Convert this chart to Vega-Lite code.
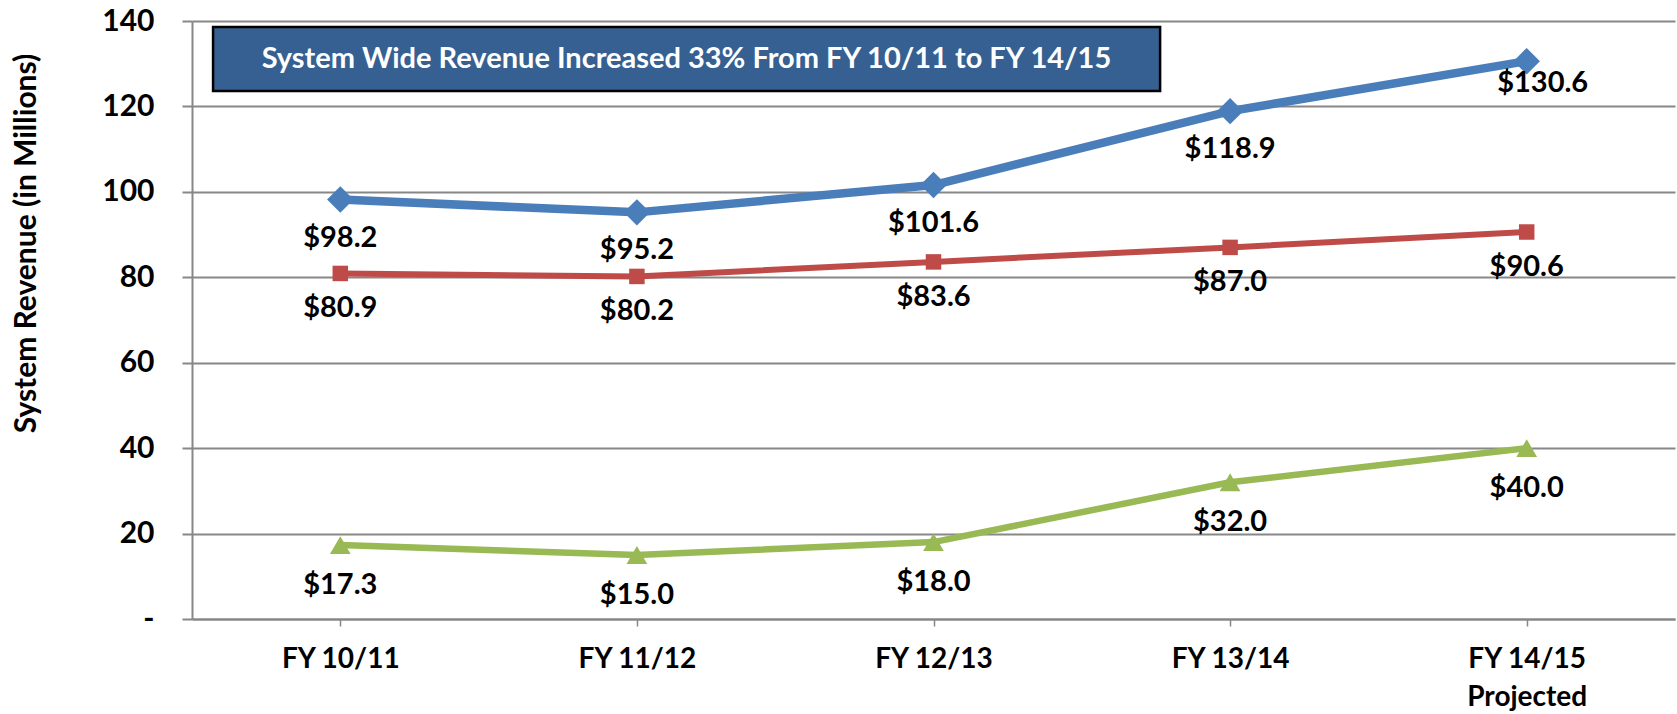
{
  "$schema": "https://vega.github.io/schema/vega-lite/v6.json",
  "width": 1483,
  "height": 598,
  "autosize": {"type": "none"},
  "padding": {"left": 192, "top": 21, "right": 2, "bottom": 95},
  "background": "white",
  "config": {"view": {"stroke": null}, "font": "Lato"},
  "datasets": {
    "rev": [
      {"year": "FY 10/11", "series": "Total", "value": 98.2},
      {"year": "FY 11/12", "series": "Total", "value": 95.2},
      {"year": "FY 12/13", "series": "Total", "value": 101.6},
      {"year": "FY 13/14", "series": "Total", "value": 118.9},
      {"year": "FY 14/15", "series": "Total", "value": 130.6},
      {"year": "FY 10/11", "series": "Fares", "value": 80.9},
      {"year": "FY 11/12", "series": "Fares", "value": 80.2},
      {"year": "FY 12/13", "series": "Fares", "value": 83.6},
      {"year": "FY 13/14", "series": "Fares", "value": 87.0},
      {"year": "FY 14/15", "series": "Fares", "value": 90.6},
      {"year": "FY 10/11", "series": "Other", "value": 17.3},
      {"year": "FY 11/12", "series": "Other", "value": 15.0},
      {"year": "FY 12/13", "series": "Other", "value": 18.0},
      {"year": "FY 13/14", "series": "Other", "value": 32.0},
      {"year": "FY 14/15", "series": "Other", "value": 40.0}
    ],
    "note": [{"text": "System Wide Revenue Increased 33% From FY 10/11 to FY 14/15"}]
  },
  "resolve": {"scale": {"x": "independent"}},
  "layer": [
    {
      "data": {"name": "rev"},
      "encoding": {
        "x": {
          "field": "year", "type": "ordinal",
          "scale": {"paddingInner": 0, "paddingOuter": 0},
          "axis": {
            "title": null,
            "labelAngle": 0,
            "labelFont": "Lato",
            "labelFontWeight": "bold",
            "labelFontSize": 28,
            "labelColor": "black",
            "labelPadding": 19,
            "labelLineHeight": 38,
            "labelExpr": "datum.value == 'FY 14/15' ? ['FY 14/15', 'Projected'] : datum.label",
            "domainColor": "#878787",
            "domainWidth": 2,
            "tickColor": "#878787",
            "tickWidth": 1.5,
            "tickSize": 7
          }
        },
        "y": {
          "field": "value", "type": "quantitative",
          "scale": {"domain": [0, 140], "nice": false},
          "axis": {
            "title": "System Revenue (in Millions)",
            "titleFont": "Lato",
            "titleFontSize": 30,
            "titleFontWeight": "bold",
            "titleColor": "black",
            "titleX": -166,
            "titleY": 222,
            "titleBaseline": "middle",
            "titleAlign": "center",
            "titleAngle": -90,
            "values": [0, 20, 40, 60, 80, 100, 120, 140],
            "labelExpr": "datum.value == 0 ? '-' : datum.label",
            "labelFont": "Lato",
            "labelFontSize": 30,
            "labelFontWeight": "bold",
            "labelColor": "black",
            "labelPadding": 28,
            "grid": true,
            "gridColor": "#878787",
            "gridWidth": 2,
            "domainColor": "#878787",
            "domainWidth": 2,
            "tickColor": "#878787",
            "tickWidth": 2,
            "tickSize": 10
          }
        },
        "color": {
          "field": "series", "type": "nominal",
          "scale": {"domain": ["Total", "Fares", "Other"], "range": ["#4A7EBB", "#BE4B48", "#98B954"]},
          "legend": null
        }
      },
      "layer": [
        {
          "mark": {"type": "line"},
          "encoding": {
            "strokeWidth": {
              "field": "series", "type": "nominal",
              "scale": {"type": "ordinal", "domain": ["Total", "Fares", "Other"], "range": [8.5, 6, 6.5]},
              "legend": null
            }
          }
        },
        {
          "mark": {"type": "point", "filled": true, "opacity": 1},
          "encoding": {
            "shape": {
              "field": "series", "type": "nominal",
              "scale": {"domain": ["Total", "Fares", "Other"], "range": ["diamond", "square", "triangle-up"]},
              "legend": null
            },
            "size": {
              "field": "series", "type": "nominal",
              "scale": {"type": "ordinal", "domain": ["Total", "Fares", "Other"], "range": [700, 240, 430]},
              "legend": null
            }
          }
        },
        {
          "transform": [{"filter": "datum.series == 'Total' && datum.year != 'FY 14/15'"}],
          "mark": {"type": "text", "dy": 38, "font": "Lato", "fontSize": 29, "fontWeight": "bold"},
          "encoding": {"text": {"field": "value", "type": "quantitative", "format": "$.1f"}, "color": {"value": "black"}}
        },
        {
          "transform": [{"filter": "datum.series == 'Total' && datum.year == 'FY 14/15'"}],
          "mark": {"type": "text", "dy": 22, "dx": 16, "font": "Lato", "fontSize": 29, "fontWeight": "bold"},
          "encoding": {"text": {"field": "value", "type": "quantitative", "format": "$.1f"}, "color": {"value": "black"}}
        },
        {
          "transform": [{"filter": "datum.series == 'Fares'"}],
          "mark": {"type": "text", "dy": 35, "font": "Lato", "fontSize": 29, "fontWeight": "bold"},
          "encoding": {"text": {"field": "value", "type": "quantitative", "format": "$.1f"}, "color": {"value": "black"}}
        },
        {
          "transform": [{"filter": "datum.series == 'Other'"}],
          "mark": {"type": "text", "dy": 40, "font": "Lato", "fontSize": 29, "fontWeight": "bold"},
          "encoding": {"text": {"field": "value", "type": "quantitative", "format": "$.1f"}, "color": {"value": "black"}}
        }
      ]
    },
    {
      "data": {"name": "note"},
      "mark": {"type": "rect", "fill": "#376092", "stroke": "black", "strokeWidth": 2.5},
      "encoding": {
        "x": {"datum": 0.071, "type": "quantitative", "scale": {"domain": [0, 5], "nice": false}, "axis": null},
        "x2": {"datum": 3.264},
        "y": {"datum": 138.6, "type": "quantitative"},
        "y2": {"datum": 123.6}
      }
    },
    {
      "data": {"name": "note"},
      "mark": {"type": "text", "color": "white", "font": "Lato", "fontSize": 29, "fontWeight": "bold", "align": "center", "baseline": "middle"},
      "encoding": {
        "x": {"datum": 1.667, "type": "quantitative", "scale": {"domain": [0, 5], "nice": false}, "axis": null},
        "y": {"datum": 131.1, "type": "quantitative"},
        "text": {"field": "text"}
      }
    }
  ]
}
